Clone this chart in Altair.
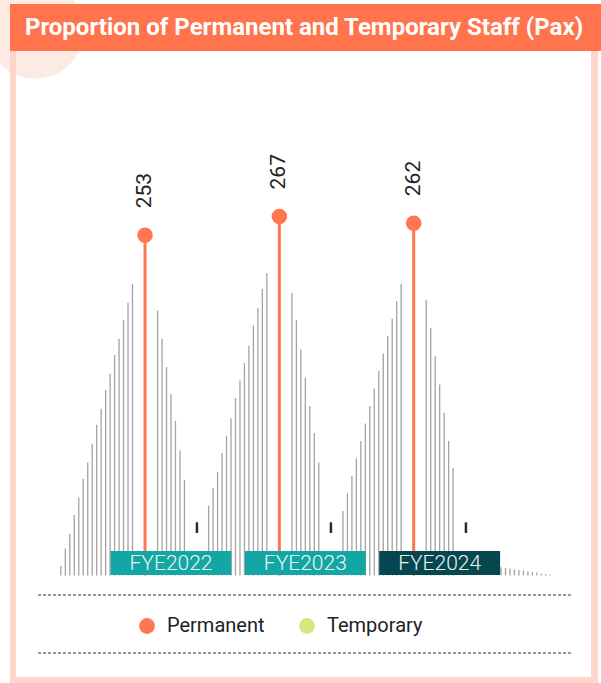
import math
import altair as alt
import pandas as pd

# ---- data -------------------------------------------------------------
years = ["FYE2022", "FYE2023", "FYE2024"]
permanent = [253, 267, 262]
temporary = [0, 0, 0]
temporary_labels = ["–", "–", "–"]

series = ["Permanent", "Temporary"]
series_colors = ["#FF7650", "#D4E882"]
year_box_colors = ["#13A6A5", "#13A6A5", "#06464F"]

# decorative spikes behind each year (Pax scale); flanks listed from the peak outward
spikes_left_2022 = [217, 203, 190, 176, 164, 150, 138, 124, 112, 98, 84, 72, 58, 45, 31, 20, 7]
spikes_right_2022 = [197, 176, 155, 135, 115, 93, 71]
spikes_left_2023 = [225, 213, 199, 186, 171, 158, 145, 132, 117, 104, 91, 77, 65, 52]
spikes_right_2023 = [210, 190, 168, 147, 126, 106, 84]
spikes_left_2024 = [217, 204, 191, 178, 165, 152, 139, 126, 113, 100, 87, 74, 61, 48]
spikes_right_2024 = [205, 184, 163, 142, 121, 100, 80]
spikes_tail = [6, 5.6, 5.2, 4.5, 4.1, 3.7, 3.0, 2.6, 2.2, 1.5, 1.1, 0.7]

# ---- layout (slot units on x) ----------------------------------------
GROUP_STEP = 30
PERM_OFF = -5.8
TEMP_OFF = 6.0
LEFT_PEAK = -8.6
RIGHT_START = -3.0
TAIL_START = 13.7
BOX_HALF = 13.5

centers = [i * GROUP_STEP for i in range(len(years))]

X = alt.Scale(domain=[-38.19, 96.03], nice=False, zero=False)
Y = alt.Scale(domain=[-80, 428], nice=False, zero=False)

spike_rows = []
for c, left, right in zip(
    centers,
    [spikes_left_2022, spikes_left_2023, spikes_left_2024],
    [spikes_right_2022, spikes_right_2023, spikes_right_2024],
):
    for j, h in enumerate(left):
        spike_rows.append({"x": c + LEFT_PEAK - j, "base": 0, "h": h})
    for j, h in enumerate(right):
        spike_rows.append({"x": c + RIGHT_START + j, "base": 0, "h": h})
for j, h in enumerate(spikes_tail):
    spike_rows.append({"x": centers[-1] + TAIL_START + j, "base": 0, "h": h})
spikes = pd.DataFrame(spike_rows)

stem_rows = []
for c, y, p, t, tl in zip(centers, years, permanent, temporary, temporary_labels):
    stem_rows.append({"year": y, "series": "Permanent", "x": c + PERM_OFF,
                      "value": p, "base": 0, "label": str(p)})
    stem_rows.append({"year": y, "series": "Temporary", "x": c + TEMP_OFF,
                      "value": t, "base": 0, "label": tl})
stems = pd.DataFrame(stem_rows)
# a zero count gets no lollipop head, only its dash label
heads = stems[stems.value > 0]

boxes = pd.DataFrame({
    "year": years,
    "center": centers,
    "x0": [c - BOX_HALF for c in centers],
    "x1": [c + BOX_HALF for c in centers],
    "fill": year_box_colors,
})

one = pd.DataFrame({"k": [0]})
FONT = "Roboto"

# ---- card decoration ---------------------------------------------------
blob = alt.Chart(one).mark_circle(size=math.pi * 55 ** 2, color="#FDEAE3", opacity=1).encode(
    x=alt.value(35), y=alt.value(30))
frame_l = alt.Chart(one).mark_rect(color="#FDD5C9").encode(
    x=alt.value(10), x2=alt.value(16), y=alt.value(50), y2=alt.value(683))
frame_r = alt.Chart(one).mark_rect(color="#FDD5C9").encode(
    x=alt.value(591), x2=alt.value(598), y=alt.value(50), y2=alt.value(683))
frame_b = alt.Chart(one).mark_rect(color="#FDD5C9").encode(
    x=alt.value(10), x2=alt.value(598), y=alt.value(677), y2=alt.value(683))
banner = alt.Chart(one).mark_rect(color="#FF734D").encode(
    x=alt.value(10), x2=alt.value(601), y=alt.value(4), y2=alt.value(51))
title = alt.Chart(one).mark_text(
    text="Proportion of Permanent and Temporary Staff (Pax)",
    color="white", font=FONT, fontSize=24, fontWeight="bold",
).encode(x=alt.value(304), y=alt.value(28))

# ---- chart marks -------------------------------------------------------
spike_layer = alt.Chart(spikes).mark_rule(color="#a3a3a3", strokeWidth=1.3).encode(
    x=alt.X("x:Q", scale=X, axis=None),
    y=alt.Y("base:Q", scale=Y, axis=None),
    y2="h:Q",
)

stem_layer = alt.Chart(heads).mark_rule(color=series_colors[0], strokeWidth=3).encode(
    x=alt.X("x:Q", scale=X, axis=None),
    y=alt.Y("base:Q", scale=Y, axis=None),
    y2="value:Q",
)

dots = alt.Chart(heads).mark_circle(size=240, opacity=1).encode(
    x=alt.X("x:Q", scale=X, axis=None),
    y=alt.Y("value:Q", scale=Y, axis=None),
    color=alt.Color(
        "series:N",
        scale=alt.Scale(domain=series, range=series_colors),
        legend=alt.Legend(
            orient="none", legendX=137, legendY=616, direction="horizontal",
            title=None, symbolType="circle", symbolSize=250, symbolStrokeWidth=0,
            symbolOpacity=1, labelFont=FONT, labelFontSize=20, labelColor="#222222",
            labelOffset=10, columnPadding=32, padding=0,
        ),
    ),
)

box_layer = alt.Chart(boxes).mark_rect().encode(
    x=alt.X("x0:Q", scale=X, axis=None),
    x2="x1:Q",
    y=alt.value(551),
    y2=alt.value(575),
    fill=alt.Fill("fill:N", scale=None),
)
box_text = alt.Chart(boxes).mark_text(
    color="#EAF6F6", font=FONT, fontSize=21, fontWeight=300, baseline="middle"
).encode(
    x=alt.X("center:Q", scale=X, axis=None),
    y=alt.value(564),
    text="year:N",
)

perm_labels = alt.Chart(stems[stems.series == "Permanent"]).mark_text(
    angle=270, align="left", baseline="middle", dx=27,
    font=FONT, fontSize=21, color="#222222",
).encode(
    x=alt.X("x:Q", scale=X, axis=None),
    y=alt.Y("value:Q", scale=Y, axis=None),
    text="label:N",
)
temp_labels = alt.Chart(stems[stems.series == "Temporary"]).mark_text(
    angle=270, align="left", baseline="middle", dx=41,
    font=FONT, fontSize=21, color="#222222", fontWeight="bold",
).encode(
    x=alt.X("x:Q", scale=X, axis=None),
    y=alt.Y("value:Q", scale=Y, axis=None),
    text="label:N",
)

dash_top = alt.Chart(one).mark_rule(color="#333333", strokeWidth=1, strokeDash=[3, 2]).encode(
    x=alt.value(38), x2=alt.value(573), y=alt.value(595))
dash_bot = alt.Chart(one).mark_rule(color="#333333", strokeWidth=1, strokeDash=[3, 2]).encode(
    x=alt.value(38), x2=alt.value(573), y=alt.value(653))

chart = alt.layer(
    blob, frame_l, frame_r, frame_b, banner, title,
    spike_layer, stem_layer, dots, box_layer, box_text,
    perm_labels, temp_labels, dash_top, dash_bot,
).properties(
    width=601, height=683, padding=0, autosize=alt.AutoSizeParams(type="none"),
    background="white",
).configure_view(stroke=None)

chart.save("out.html", embed_options={"renderer": "svg", "actions": False})
